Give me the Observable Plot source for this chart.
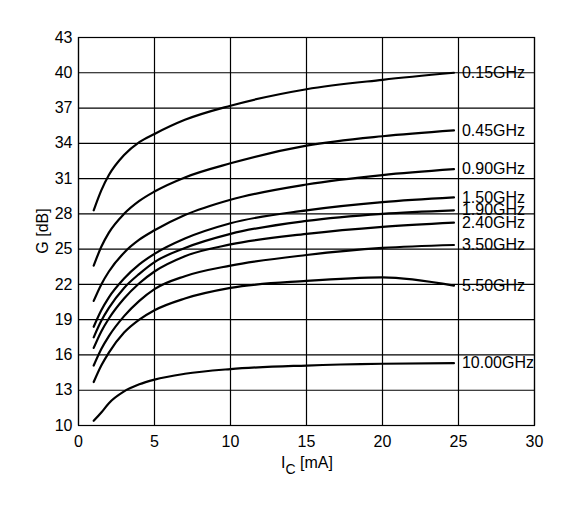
<!DOCTYPE html>
<html>
<head>
<meta charset="utf-8">
<script src="https://cdn.jsdelivr.net/npm/d3@7"></script>
<script src="https://cdn.jsdelivr.net/npm/@observablehq/plot@0.6"></script>
<style>
  html, body { margin: 0; padding: 0; background: #fff; }
</style>
</head>
<body>
<div id="chart"></div>
<script>
// Collector current (mA)
const ic = [1, 1.5, 2, 3, 4, 5, 7, 10, 15, 20, 24.7];

// Gain G [dB] per frequency
const g015 = [28.3, 30.0, 31.3, 33.0, 34.1, 34.8, 36.0, 37.2, 38.6, 39.4, 40.0];
const g045 = [23.6, 25.2, 26.4, 28.0, 29.1, 29.9, 31.1, 32.3, 33.8, 34.6, 35.1];
const g090 = [20.6, 22.0, 23.1, 24.7, 25.8, 26.6, 27.9, 29.2, 30.5, 31.3, 31.8];
const g150 = [18.4, 19.8, 20.9, 22.5, 23.7, 24.6, 25.9, 27.2, 28.3, 29.0, 29.4];
const g190 = [17.5, 18.9, 20.0, 21.7, 22.9, 23.9, 25.1, 26.3, 27.4, 28.0, 28.3];
const g240 = [16.6, 18.0, 19.1, 20.8, 22.1, 23.1, 24.4, 25.4, 26.3, 26.9, 27.25];
const g350 = [15.1, 16.5, 17.6, 19.3, 20.6, 21.6, 22.7, 23.6, 24.5, 25.1, 25.35];
const g550 = [13.7, 15.1, 16.2, 17.9, 19.0, 19.8, 20.8, 21.7, 22.3, 22.6, 21.9];
const g1000 = [10.4, 11.1, 11.9, 12.9, 13.5, 13.9, 14.4, 14.8, 15.1, 15.25, 15.3];

const seriesNames = ["0.15GHz", "0.45GHz", "0.90GHz", "1.50GHz", "1.90GHz", "2.40GHz", "3.50GHz", "5.50GHz", "10.00GHz"];
const seriesValues = [g015, g045, g090, g150, g190, g240, g350, g550, g1000];

const xTicks = [0, 5, 10, 15, 20, 25, 30];
const yTicks = [10, 13, 16, 19, 22, 25, 28, 31, 34, 37, 40, 43];

const rows = [];
seriesNames.forEach((name, i) => {
  seriesValues[i].forEach((v, j) => rows.push({name, ic: ic[j], g: v}));
});
const lastRows = seriesNames.map((name, i) => ({name, ic: ic[ic.length - 1], g: seriesValues[i][ic.length - 1]}));

const font = "'Liberation Sans', Arial, Helvetica, sans-serif";

const chart = Plot.plot({
  width: 581,
  height: 511,
  marginLeft: 78,
  marginRight: 47,
  marginTop: 37,
  marginBottom: 86,
  style: {fontFamily: font, fontSize: "16px", color: "#000", background: "#fff", overflow: "visible"},
  x: {domain: [0, 30], ticks: xTicks, tickSize: 0, tickPadding: 10, label: null},
  y: {domain: [10, 43], ticks: yTicks, tickSize: 0, tickPadding: 6, label: null},
  marks: [
    Plot.gridX(xTicks, {stroke: "#000", strokeOpacity: 1, strokeWidth: 1.2}),
    Plot.gridY(yTicks, {stroke: "#000", strokeOpacity: 1, strokeWidth: 1.2}),
    Plot.frame({stroke: "#000", strokeWidth: 1.2}),
    Plot.line(rows, {x: "ic", y: "g", z: "name", stroke: "#000", strokeWidth: 2.2, curve: "monotone-x"}),
    Plot.text(lastRows, {x: "ic", y: "g", text: "name", textAnchor: "start", dx: 8, fill: "#000", fontSize: 16})
  ]
});

document.getElementById("chart").appendChild(chart);

const svg = d3.select(chart);
// Y axis title
svg.append("text")
  .attr("transform", "translate(48,231) rotate(-90)")
  .attr("text-anchor", "middle")
  .attr("font-family", font)
  .attr("font-size", 16)
  .attr("fill", "#000")
  .text("G [dB]");
// X axis title with subscript
const xl = svg.append("text")
  .attr("x", 307)
  .attr("y", 468)
  .attr("text-anchor", "middle")
  .attr("font-family", font)
  .attr("font-size", 16)
  .attr("fill", "#000");
xl.append("tspan").text("I");
xl.append("tspan").attr("dy", 6).attr("font-size", 14).text("C");
xl.append("tspan").attr("dy", -6).text(" [mA]");
</script>
</body>
</html>
